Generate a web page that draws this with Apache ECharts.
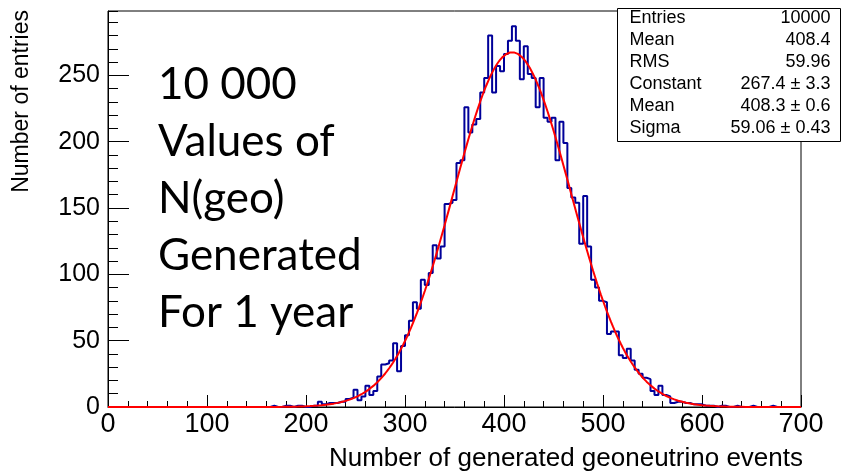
<!DOCTYPE html>
<html>
<head>
<meta charset="utf-8">
<script src="https://cdn.jsdelivr.net/npm/echarts@6/dist/echarts.min.js"></script>
<style>
  html, body { margin: 0; padding: 0; background: #ffffff; }
  #main { width: 842px; height: 471px; }
</style>
</head>
<body>
<div id="main"></div>
<script>
// Histogram binning (4 events per bin over 0..700)
const binWidth = 4;
const axisMin = 0;
const axisMax = 700;
const firstFilledBin = 160;

// Entries per bin, starting at firstFilledBin; bins outside are empty
const counts = [
  0, 1, 0, 0, 1, 1, 0, 1, 1, 0,          // 160-196
  0, 1, 1, 4, 2, 3, 3, 3, 4, 4,          // 200-236
  6, 7, 13, 5, 8, 16, 9, 12, 23, 32,     // 240-276
  33, 35, 48, 27, 46, 54, 65, 79, 74, 96, // 280-316
  92, 101, 122, 112, 121, 153, 154, 156, 184, 186, // 320-356
  226, 207, 213, 217, 237, 248, 280, 237, 257, 253, // 360-396
  266, 276, 287, 276, 247, 272, 251, 248, 226, 248, // 400-436
  218, 215, 218, 186, 215, 199, 165, 158, 154, 123, // 440-476
  159, 121, 96, 90, 80, 79, 55, 57, 57, 39,         // 480-516
  37, 44, 35, 28, 25, 22, 21, 12, 9, 16,            // 520-556
  9, 8, 3, 4, 4, 3, 3, 2, 2, 2,                     // 560-596
  1, 1, 1, 0, 1, 1, 0, 0, 1, 0,                     // 600-636
  0, 0, 1, 0, 0, 0, 0, 1, 0, 0                      // 640-676
];

// Gaussian fit result
const fitConstant = 267.4, fitConstantErr = 3.3;
const fitMean = 408.3, fitMeanErr = 0.6;
const fitSigma = 59.06, fitSigmaErr = 0.43;

// Histogram statistics
const entries = 10000;
const histMean = 408.4;
const histRms = 59.96;

const statLabels = ['Entries', 'Mean', 'RMS', 'Constant', 'Mean', 'Sigma'];
const statValues = [
  String(entries),
  histMean.toFixed(1),
  histRms.toFixed(2),
  fitConstant.toFixed(1) + ' \u00b1 ' + fitConstantErr.toFixed(1),
  fitMean.toFixed(1) + ' \u00b1 ' + fitMeanErr.toFixed(1),
  fitSigma.toFixed(2) + ' \u00b1 ' + fitSigmaErr.toFixed(2)
];

const noteLines = ['10 000', 'Values of', 'N(geo)', 'Generated', 'For 1 year'];
const xTitle = 'Number of generated geoneutrino events';
const yTitle = 'Number of entries';
const yMax = 298.5;

// Step outline points: each bin's low edge with its count, closed at the last edge
const histData = [];
for (let x = axisMin; x < axisMax; x += binWidth) {
  const i = (x - firstFilledBin) / binWidth;
  const c = (i >= 0 && i < counts.length) ? counts[i] : 0;
  histData.push([x, c]);
}
histData.push([axisMax, histData[histData.length - 1][1]]);

// Fitted Gaussian curve over the full axis range
const fitData = [];
for (let x = axisMin; x <= axisMax; x += 2) {
  const z = (x - fitMean) / fitSigma;
  fitData.push([x, fitConstant * Math.exp(-0.5 * z * z)]);
}

const AXIS_FONT = '"Liberation Sans", Arial, Helvetica, sans-serif';
const NOTE_FONT = 'Lato, "Open Sans", sans-serif';

const chart = echarts.init(document.getElementById('main'), null, { renderer: 'canvas' });

const graphics = [];
// axis titles
graphics.push({
  type: 'text', right: 39, top: 446, z: 10,
  style: { text: xTitle, font: '26px ' + AXIS_FONT, fill: '#000' }
});
graphics.push({
  type: 'text', x: 22, y: 10, rotation: Math.PI / 2, z: 10,
  style: { text: yTitle, font: '23px ' + AXIS_FONT, fill: '#000', textAlign: 'right', textVerticalAlign: 'middle' }
});
// annotation block
noteLines.forEach((line, k) => {
  graphics.push({
    type: 'text', x: 158, y: 85 + k * 57, z: 10,
    style: { text: line, font: '44px ' + NOTE_FONT, fill: '#000', textVerticalAlign: 'middle' }
  });
});
// statistics box
const statChildren = [{
  type: 'rect', shape: { x: 0, y: 0, width: 223, height: 133 },
  style: { fill: '#fff', stroke: '#000', lineWidth: 1 }
}];
statLabels.forEach((lab, k) => {
  statChildren.push({
    type: 'text', x: 12, y: 10 + k * 22,
    style: { text: lab, font: '18px ' + AXIS_FONT, fill: '#000', textVerticalAlign: 'middle' }
  });
  statChildren.push({
    type: 'text', x: 213, y: 10 + k * 22,
    style: { text: statValues[k], font: '18px ' + AXIS_FONT, fill: '#000', textAlign: 'right', textVerticalAlign: 'middle' }
  });
});
graphics.push({ type: 'group', x: 617.5, y: 8.5, z: 20, children: statChildren });

chart.setOption({
  animation: false,
  backgroundColor: '#fff',
  grid: {
    left: 108, right: 41, top: 11, bottom: 64,
    show: true, borderColor: '#000', borderWidth: 1, backgroundColor: 'transparent'
  },
  xAxis: {
    type: 'value', min: axisMin, max: axisMax, interval: 100,
    axisLine: { show: true, lineStyle: { color: '#000', width: 1 } },
    axisTick: { show: true, inside: true, length: 12, lineStyle: { color: '#000' } },
    minorTick: { show: true, splitNumber: 5, length: 6, lineStyle: { color: '#000' } },
    splitLine: { show: false },
    axisLabel: { color: '#000', fontFamily: AXIS_FONT, fontSize: 27, margin: 4 }
  },
  yAxis: [{
    type: 'value', min: 0, max: yMax, interval: 50,
    axisLine: { show: true, lineStyle: { color: '#000', width: 1 } },
    axisTick: { show: true, inside: true, length: 21, lineStyle: { color: '#000' } },
    splitLine: { show: false },
    axisLabel: { color: '#000', fontFamily: AXIS_FONT, fontSize: 25, margin: 8, showMaxLabel: false }
  }, {
    type: 'value', min: 0, max: yMax, interval: 10, position: 'left',
    axisLine: { show: false },
    axisTick: { show: true, inside: true, length: 10, lineStyle: { color: '#000' } },
    splitLine: { show: false },
    axisLabel: { show: false }
  }],
  series: [{
    type: 'line', name: 'entries', data: histData, step: 'end',
    showSymbol: false, symbol: 'none', z: 3,
    lineStyle: { color: '#000099', width: 2 }
  }, {
    type: 'line', name: 'gaus', data: fitData, smooth: false,
    showSymbol: false, symbol: 'none', z: 4,
    lineStyle: { color: '#ff0000', width: 2 }
  }],
  graphic: graphics
});
</script>
</body>
</html>
